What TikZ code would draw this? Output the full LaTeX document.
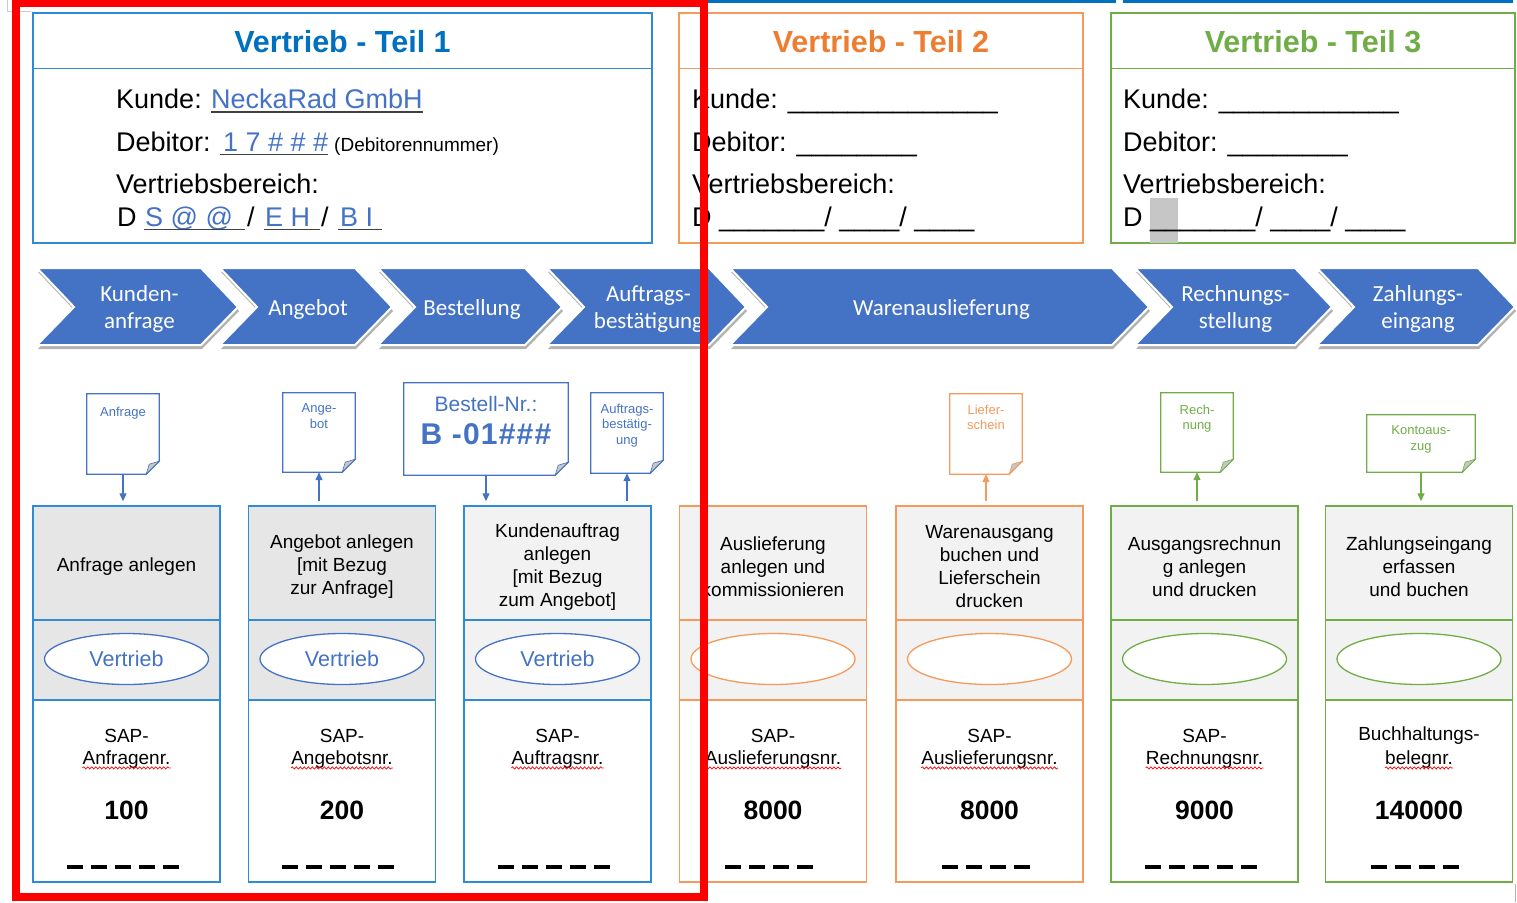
\documentclass[tikz,border=0pt]{standalone}
\usepackage{fontspec}
\setmainfont{Liberation Sans}
\newfontfamily\calibri{Carlito}
\usetikzlibrary{positioning,shapes.geometric,shadows,arrows.meta,decorations.pathmorphing}

\definecolor{chevblue}{HTML}{4472C4}
\definecolor{titleblue}{HTML}{0070C0}
\definecolor{lineblue}{HTML}{2E8BD6}
\definecolor{docblue}{HTML}{4472C4}
\definecolor{titleorange}{HTML}{ED7D31}
\definecolor{lineorange}{HTML}{F39A5C}
\definecolor{linegreen}{HTML}{70AD47}
\definecolor{grayA}{HTML}{E7E6E6}
\definecolor{grayB}{HTML}{F2F2F2}
\definecolor{markred}{HTML}{FF0000}

\newcommand{\fsz}[2]{\fontsize{#1}{#2}\selectfont}

% page outline with folded corner
\newcommand{\docpage}[2]{%
  \draw[#2, line width=1.3pt] (#1.north west) -- (#1.north east) -- ([yshift=13pt]#1.south east)
    -- ([xshift=-13pt]#1.south east) -- (#1.south west) -- cycle;
  \filldraw[fill=gray!45, draw=#2, line width=0.6pt] ([yshift=13pt]#1.south east)
    -- ([xshift=-13pt]#1.south east) -- ([xshift=-10pt,yshift=10pt]#1.south east) -- cycle;
}

\tikzset{
  hdrbox/.style={draw, line width=1.4pt, minimum height=230pt, inner sep=0pt},
  titletxt/.style={font=\fsz{30.5}{34}\bfseries, inner sep=0pt},
  hline/.style={anchor=base west, inner sep=0pt, font=\fsz{27}{32}},
  uline/.style={black!75, line width=1.3pt},
  chev/.style={fill=chevblue, draw=white, line width=2pt,
    drop shadow={shadow xshift=1pt, shadow yshift=-4pt, opacity=.3, fill=black}},
  chevtxt/.style={text=white, align=center, inner sep=0pt, font=\calibri\fsz{23}{27}},
  docbox/.style={inner sep=0pt},
  doctxt/.style={anchor=north, yshift=-11pt, inner sep=0pt, align=center, font=\fsz{13}{15.5}},
  taskbox/.style={minimum width=187pt, minimum height=114pt, line width=1.4pt, inner sep=0pt},
  tasktxt/.style={inner sep=0pt, align=center, font=\fsz{19}{23}},
  rolebox/.style={minimum width=187pt, minimum height=80pt, line width=1.4pt, inner sep=0pt},
  numbox/.style={minimum width=187pt, minimum height=182pt, line width=1.4pt, inner sep=0pt},
  roleoval/.style={ellipse, minimum width=164pt, minimum height=51pt, fill=white,
    line width=1.3pt, inner sep=0pt, text=chevblue, font=\fsz{21.5}{24}},
  unittxt/.style={inner sep=0pt, font=\fsz{19}{23}},
  numtxt/.style={inner sep=0pt, font=\fsz{26.5}{30}\bfseries},
  spell/.style={markred, line width=0.7pt, decorate, decoration={snake, amplitude=1.1pt, segment length=4pt}},
  dashrow/.style={line width=3.2pt, dash pattern=on 16pt off 8pt},
  flowdown/.style={-{Triangle[length=8pt,width=7pt]}, line width=1.2pt, shorten >=4pt},
  flowup/.style={-{Triangle[length=8pt,width=7pt]}, line width=1.2pt, shorten <=4pt}
}

\begin{document}
\begin{tikzpicture}[x=1pt, y=-1pt]
    \useasboundingbox (0,0) rectangle (1517,902);

    % page marks
    \draw[gray!40, line width=1pt] (7,0) -- (7,11) -- (31,11);
    \draw[titleblue, line width=3pt] (707,1) -- (1116,1);
    \draw[titleblue, line width=3pt] (1123,1) -- (1513,1);
    \draw[gray!60, line width=1pt] (1515,884) -- (1515,902);

    % header boxes
    \node (h1) [hdrbox, draw=lineblue, minimum width=619pt] at (342.5,128) {};
    \node (h2) [hdrbox, draw=lineorange, minimum width=404pt] at (881,128) {};
    \node (h3) [hdrbox, draw=linegreen, minimum width=404pt] at (1313,128) {};
    \draw[lineblue, line width=1.4pt] ([yshift=-56pt]h1.north west) -- ([yshift=-56pt]h1.north east);
    \draw[lineorange, line width=1.4pt] ([yshift=-56pt]h2.north west) -- ([yshift=-56pt]h2.north east);
    \draw[linegreen, line width=1.4pt] ([yshift=-56pt]h3.north west) -- ([yshift=-56pt]h3.north east);
    \node (t1) [titletxt, text=titleblue] at (342.5,42) {Vertrieb - Teil 1};
    \node (t2) [titletxt, text=titleorange] at (881,42) {Vertrieb - Teil 2};
    \node (t3) [titletxt, text=linegreen] at (1313,42) {Vertrieb - Teil 3};

    % Teil 1
    \node (kd1) [hline] at (116,108) {Kunde:};
    \node (kn1) [hline, text=chevblue] at (211,108) {NeckaRad GmbH};
    \draw[uline] ([yshift=-4pt]kn1.base west) -- ([yshift=-4pt]kn1.base east);
    \node (db1) [hline] at (116,151) {Debitor:};
    \node (dn1) [hline, text=chevblue] at (223,151) {1 7 \# \# \#};
    \draw[uline] ([xshift=-3pt,yshift=-3.5pt]dn1.base west) -- ([yshift=-3.5pt]dn1.base east);
    \node (dx1) [hline, font=\fsz{19}{22}] at (334,151) {(Debitorennummer)};
    \node (vb1) [hline] at (116,193) {Vertriebsbereich:};
    \node (dv1) [hline] at (117,226) {D};
    \node (sv1) [hline, text=chevblue] at (145,226) {S @ @};
    \draw[uline] ([xshift=-1pt,yshift=-3.5pt]sv1.base west) -- ([xshift=12pt,yshift=-3.5pt]sv1.base east);
    \node (sl1) [hline] at (247,226) {/};
    \node (ev1) [hline, text=chevblue] at (265,226) {E H};
    \draw[uline] ([xshift=-1pt,yshift=-3.5pt]ev1.base west) -- ([xshift=10pt,yshift=-3.5pt]ev1.base east);
    \node (sl2) [hline] at (321,226) {/};
    \node (bv1) [hline, text=chevblue] at (340,226) {B I};
    \draw[uline] ([xshift=-2pt,yshift=-3.5pt]bv1.base west) -- ([xshift=9pt,yshift=-3.5pt]bv1.base east);

    % Teil 2 and 3
    \node (kd2) [hline] at (692,108) {Kunde: \_\_\_\_\_\_\_\_\_\_\_\_\_\_};
    \node (db2) [hline] at (692,151) {Debitor: \_\_\_\_\_\_\_\_};
    \node (vb2) [hline] at (692,193) {Vertriebsbereich:};
    \node (dv2) [hline] at (692,226) {D \_\_\_\_\_\_\_/ \_\_\_\_/ \_\_\_\_};
    \fill[gray!45] (1150,198) rectangle (1178,243);
    \node (kd3) [hline] at (1123,108) {Kunde: \_\_\_\_\_\_\_\_\_\_\_\_};
    \node (db3) [hline] at (1123,151) {Debitor: \_\_\_\_\_\_\_\_};
    \node (vb3) [hline] at (1123,193) {Vertriebsbereich:};
    \node (dv3) [hline] at (1123,226) {D \_\_\_\_\_\_\_/ \_\_\_\_/ \_\_\_\_};

    % process chevrons
    \foreach \l/\s/\t [count=\i] in {37/201/{Kunden-\\anfrage}, 220/355/Angebot, 378/525/Bestellung,
        547/709/{Auftrags-\\bestätigung}, 730/1112/Warenauslieferung, 1135/1295/{Rechnungs-\\stellung},
        1317/1478/{Zahlungs-\\eingang}} {
      \draw[chev] (\l,268) -- (\s,268) -- ({\s+37},307) -- (\s,345) -- (\l,345) -- ({\l+37},307) -- cycle;
      \node (ch\i) [chevtxt] at ({(\l+\s+37)/2+2},309) {\t};
    }

    % columns
    \foreach \cx/\lc/\oc/\fc/\task/\ov/\ua/\ub/\num/\nd [count=\i] in {
        126.5/lineblue/chevblue/grayA/{Anfrage anlegen}/Vertrieb/SAP-/Anfragenr./100/5,
        342/lineblue/chevblue/grayA/{Angebot anlegen\\{[}mit Bezug\\zur Anfrage{]}}/Vertrieb/SAP-/Angebotsnr./200/5,
        557.5/lineblue/chevblue/grayB/{Kundenauftrag\\anlegen\\{[}mit Bezug\\zum Angebot{]}}/Vertrieb/SAP-/Auftragsnr./{}/5,
        773/lineorange/lineorange/grayB/{Auslieferung\\anlegen und\\kommissionieren}/{}/SAP-/Auslieferungsnr./8000/4,
        989.5/lineorange/lineorange/grayB/{Warenausgang\\buchen und\\Lieferschein\\drucken}/{}/SAP-/Auslieferungsnr./8000/4,
        1204.5/linegreen/linegreen/grayB/{Ausgangsrechnun\\g anlegen\\und drucken}/{}/SAP-/Rechnungsnr./9000/5,
        1419/linegreen/linegreen/grayB/{Zahlungseingang\\erfassen\\und buchen}/{}/Buchhaltungs-/belegnr./140000/4} {
      \node (c\i) [taskbox, draw=\lc, fill=\fc] at (\cx,563) {};
      \node (ct\i) [tasktxt] at (\cx,567) {\task};
      \node (r\i) [rolebox, draw=\lc, fill=\fc] at (\cx,660) {};
      \node (b\i) [numbox, draw=\lc] at (\cx,791) {};
      \node (o\i) [roleoval, draw=\oc] at (\cx,659) {\ov};
      \node (u\i) [unittxt] at (\cx,736) {\ua};
      \node (w\i) [unittxt] at (\cx,760) {\ub};
      \draw[spell] ([yshift=-3pt]w\i.base west) -- ([yshift=-3pt]w\i.base east);
      \node (n\i) [numtxt] at (\cx,810) {\num};
      \draw[dashrow] ({\cx-12*\nd},867) -- ++({24*\nd-8},0);
    }

    % documents
    \node (dAnf) [docbox, minimum width=72pt, minimum height=80pt,
      label={[doctxt, text=docblue, yshift=-2pt]north:Anfrage}] at (123,434) {};
    \node (dAng) [docbox, minimum width=72pt, minimum height=79pt,
      label={[doctxt, text=docblue]north:Ange-\\bot}] at (319,432.5) {};
    \node (dBes) [docbox, minimum width=164pt, minimum height=92pt,
      label={[doctxt, text=docblue, font=\fsz{21}{24}, yshift=-2pt]north:Bestell-Nr.:},
      label={[doctxt, text=docblue, font=\fsz{30}{34}\bfseries\addfontfeatures{LetterSpace=4}, yshift=-30pt]north:B -01\#\#\#}] at (486,429) {};
    \node (dAuf) [docbox, minimum width=72pt, minimum height=80pt,
      label={[doctxt, text=docblue]north:Auftrags-\\bestätig-\\ung}] at (627,433) {};
    \node (dLie) [docbox, minimum width=72pt, minimum height=80pt,
      label={[doctxt, text=lineorange]north:Liefer-\\schein}] at (986,434) {};
    \node (dRec) [docbox, minimum width=72pt, minimum height=79pt,
      label={[doctxt, text=linegreen, yshift=-1pt]north:Rech-\\nung}] at (1197,432.5) {};
    \node (dKon) [docbox, minimum width=108pt, minimum height=57pt,
      label={[doctxt, text=linegreen]north:Kontoaus-\\zug}] at (1421,443.5) {};
    \docpage{dAnf}{docblue}
    \docpage{dAng}{docblue}
    \docpage{dBes}{docblue}
    \docpage{dAuf}{docblue}
    \docpage{dLie}{lineorange}
    \docpage{dRec}{linegreen}
    \docpage{dKon}{linegreen}

    % Arrows
    \draw[flowdown, docblue] (dAnf.south) -- (dAnf.south |- c1.north);
    \draw[flowup, docblue] (dAng.south |- c2.north) -- (dAng.south);
    \draw[flowdown, docblue] (dBes.south) -- (dBes.south |- c3.north);
    \draw[flowup, docblue] (dAuf.south |- c3.north) -- (dAuf.south);
    \draw[flowup, lineorange] (dLie.south |- c5.north) -- (dLie.south);
    \draw[flowup, linegreen] (dRec.south |- c6.north) -- (dRec.south);
    \draw[flowdown, linegreen] (dKon.south) -- (dKon.south |- c7.north);

    % red frame
    \draw[markred, line width=7.5pt] (16,3.5) rectangle (704,897);
\end{tikzpicture}
\end{document}
